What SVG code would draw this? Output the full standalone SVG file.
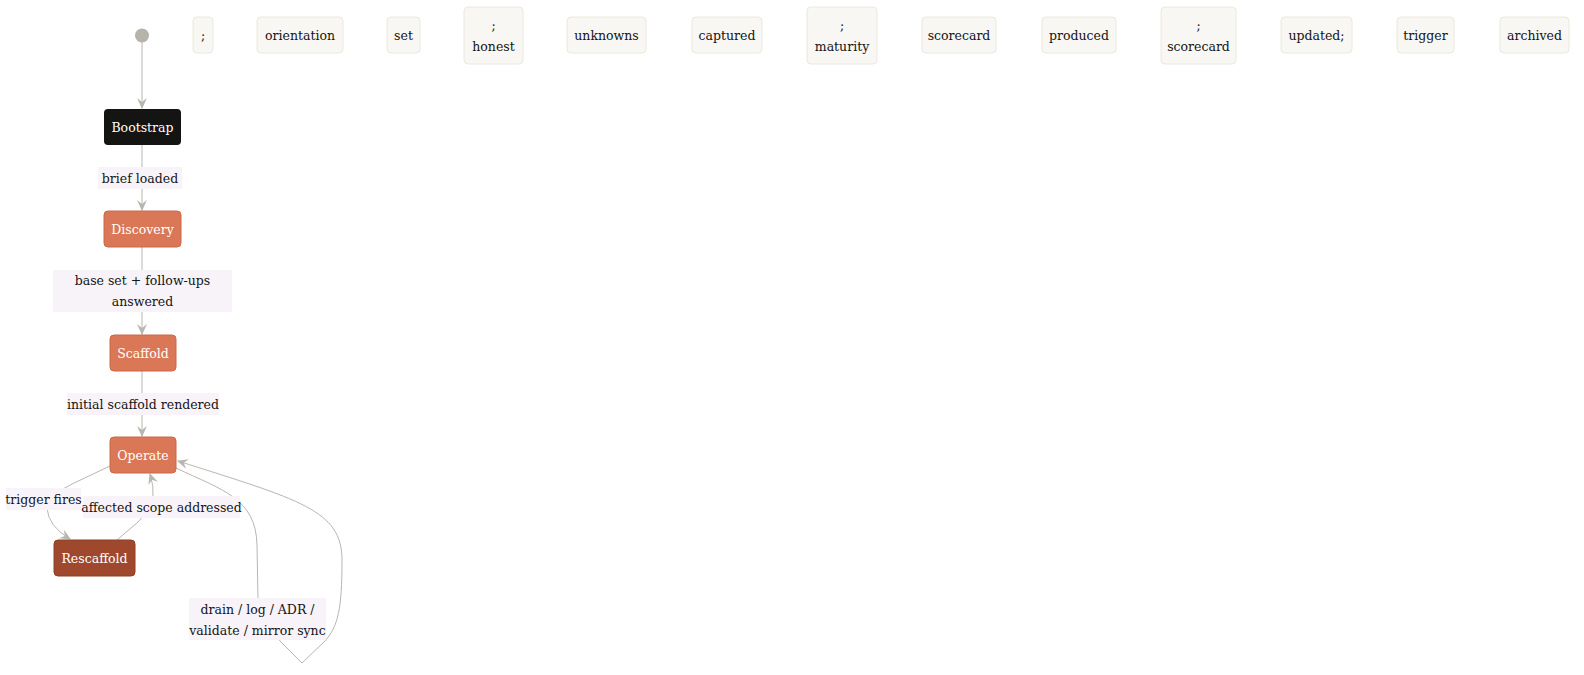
<svg xmlns="http://www.w3.org/2000/svg" width="1584" height="675" viewBox="0 0 1584 675">
<defs>
<style>
text{font-family:"DejaVu Serif","Liberation Serif",serif;font-size:12.5px;text-anchor:middle;dominant-baseline:central}
.note rect{fill:#f8f7f3;stroke:#ebe8df;stroke-width:1}
.note text{fill:#141413}
.state text{fill:#ffffff}
.lbl rect{fill:#f7f3f9}
.lbl text{fill:#141413}
.edge{fill:none;stroke:#b8b6ae;stroke-width:1}
</style>
<marker id="arr" viewBox="0 0 10 10" refX="9" refY="5" markerWidth="11" markerHeight="11" orient="auto" markerUnits="userSpaceOnUse">
<path d="M0,0.5 L10,5 L0,9.5 L3.5,5 z" fill="#b8b6ae"/>
</marker>
</defs>
<rect width="1584" height="675" fill="#ffffff"/>

<g id="notes">
<g id="n1" class="note"><rect x="193" y="17" width="20" height="36" rx="4"/><text x="203" y="35">;</text></g>
<g id="n2" class="note"><rect x="257" y="17" width="86" height="36" rx="4"/><text x="300" y="35">orientation</text></g>
<g id="n3" class="note"><rect x="387" y="17" width="33" height="36" rx="4"/><text x="403.5" y="35">set</text></g>
<g id="n4" class="note"><rect x="464" y="7" width="59" height="57" rx="4"/><text x="493.5" y="25">;</text><text x="493.5" y="46">honest</text></g>
<g id="n5" class="note"><rect x="567" y="17" width="79" height="36" rx="4"/><text x="606.5" y="35">unknowns</text></g>
<g id="n6" class="note"><rect x="692" y="17" width="70" height="36" rx="4"/><text x="727" y="35">captured</text></g>
<g id="n7" class="note"><rect x="807" y="7" width="70" height="57" rx="4"/><text x="842" y="25">;</text><text x="842" y="46">maturity</text></g>
<g id="n8" class="note"><rect x="922" y="17" width="74" height="36" rx="4"/><text x="959" y="35">scorecard</text></g>
<g id="n9" class="note"><rect x="1042" y="17" width="74" height="36" rx="4"/><text x="1079" y="35">produced</text></g>
<g id="n10" class="note"><rect x="1161" y="7" width="75" height="57" rx="4"/><text x="1198.5" y="25">;</text><text x="1198.5" y="46">scorecard</text></g>
<g id="n11" class="note"><rect x="1281" y="17" width="71" height="36" rx="4"/><text x="1316.5" y="35">updated;</text></g>
<g id="n12" class="note"><rect x="1397" y="17" width="57" height="36" rx="4"/><text x="1425.5" y="35">trigger</text></g>
<g id="n13" class="note"><rect x="1500" y="17" width="69" height="36" rx="4"/><text x="1534.5" y="35">archived</text></g>
</g>

<g id="connectors">
<path class="edge" d="M142,42 L142,108" marker-end="url(#arr)"/>
<path class="edge" d="M142,145 L142,210" marker-end="url(#arr)"/>
<path class="edge" d="M142,247 L142,334" marker-end="url(#arr)"/>
<path class="edge" d="M142,371 L142,436" marker-end="url(#arr)"/>
<path class="edge" d="M110,466 L72,484 Q47,496 47,508 Q48,526 70,539" marker-end="url(#arr)"/>
<path class="edge" d="M117,540 L138,522 Q152,508 153,497 Q154,486 150,474" marker-end="url(#arr)"/>
<path class="edge" d="M176,468 C222,490 256,498 257,545 L258,600 L280,641 L302,663 L325,641 C338,626 342,610 342,560 C342,510 300,500 178,461" marker-end="url(#arr)"/>
</g>

<g id="labels">
<g class="lbl"><rect x="98" y="167" width="84" height="22"/><text x="140" y="178">brief loaded</text></g>
<g class="lbl"><rect x="53" y="270" width="179" height="42"/><text x="142.5" y="280">base set + follow-ups</text><text x="142.5" y="301">answered</text></g>
<g class="lbl"><rect x="67" y="393" width="152" height="22"/><text x="143" y="404">initial scaffold rendered</text></g>
<g class="lbl"><rect x="6" y="488" width="75" height="22"/><text x="43.5" y="499">trigger fires</text></g>
<g class="lbl"><rect x="83" y="496" width="157" height="22"/><text x="161.5" y="507">affected scope addressed</text></g>
<g class="lbl"><rect x="189" y="598" width="137" height="42"/><text x="257.5" y="609">drain / log / ADR /</text><text x="257.5" y="630">validate / mirror sync</text></g>
</g>

<g id="start"><circle cx="142" cy="35.5" r="7" fill="#b5b3aa"/></g>
<g id="bootstrap" class="state"><rect x="104" y="109" width="77" height="36" rx="4" fill="#141413"/><text x="142.5" y="127">Bootstrap</text></g>
<g id="discovery" class="state"><rect x="104" y="211" width="77" height="36" rx="4" fill="#d97757" stroke="#c96848"/><text x="142.5" y="229">Discovery</text></g>
<g id="scaffold" class="state"><rect x="110" y="335" width="66" height="36" rx="4" fill="#d97757" stroke="#c96848"/><text x="143" y="353">Scaffold</text></g>
<g id="operate" class="state"><rect x="110" y="437" width="66" height="36" rx="4" fill="#d97757" stroke="#c96848"/><text x="143" y="455">Operate</text></g>
<g id="rescaffold" class="state"><rect x="54" y="540" width="81" height="36" rx="4" fill="#a0482d" stroke="#8e3e26"/><text x="94.5" y="558">Rescaffold</text></g>
</svg>
